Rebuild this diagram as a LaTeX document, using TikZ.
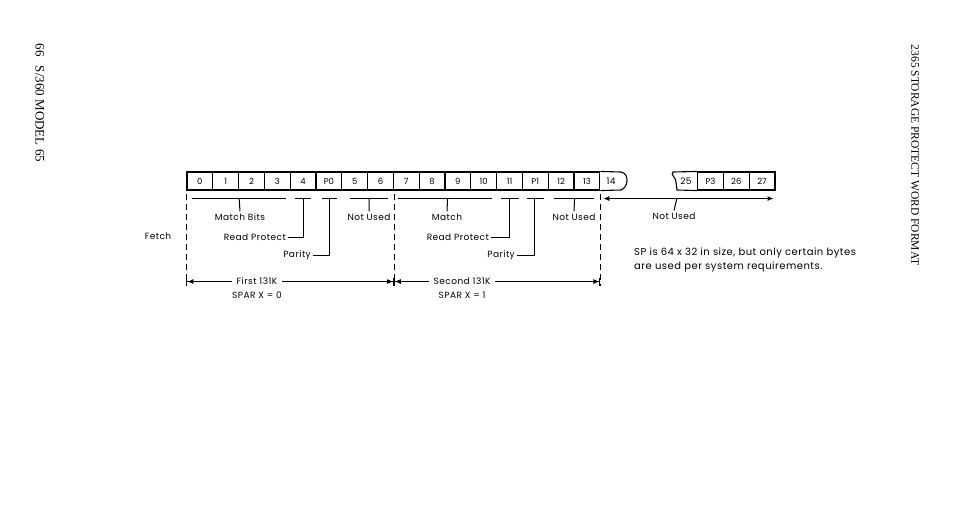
\documentclass[tikz,border=0pt]{standalone}
\usepackage{fontspec}
\newfontfamily\diagfont[LetterSpace=5]{Poppins}
\newfontfamily\cellfont{Poppins}
\newfontfamily\captfont{Liberation Serif}
\usetikzlibrary{arrows.meta,positioning,calc}
\tikzset{
  cell/.style={draw,line width=1.1pt,minimum width=25.8pt,minimum height=18pt,inner sep=0pt,font=\cellfont\fontsize{8.5}{9}\selectfont},
  lbl/.style={inner sep=2pt,font=\diagfont\fontsize{9}{10}\selectfont},
  brk/.style={line width=1pt},
  guide/.style={line width=0.9pt,dash pattern=on 6pt off 4pt},
  span/.style={line width=0.9pt,{Bar[width=8pt]Latex[length=6pt,width=5pt]}-{Latex[length=6pt,width=5pt]Bar[width=8pt]}},
  pagehead/.style={rotate=-90,font=\captfont\fontsize{11.5}{12}\selectfont},
}
\begin{document}
\begin{tikzpicture}[x=1pt,y=-1pt]
\useasboundingbox (0,0) rectangle (960,517);
% storage protect word, bytes 0 to 13
\foreach \lab [count=\i from 0] in {0,1,2,3,4,P0,5,6,7,8,9,10,11,P1,12,13}
  \node[cell] (c\i) at ({199.9+\i*25.8},181) {\lab};
\node[lbl] (c16) at (611,181) {14};
\draw[line width=1.1pt] (c15.north east) -- (621,172) .. controls (626,173) and (627,177) .. (627,181)
  .. controls (627,185) and (624,189) .. (621,190) -- (c15.south east);
% last bytes
\node[cell] (r1) at (710.5,181) {P3};
\node[cell] (r2) at (736.3,181) {26};
\node[cell] (r3) at (762.1,181) {27};
\node[lbl] (r0) at (686,181) {25};
\draw[line width=1.1pt] (r1.north west) -- (673,172) .. controls (670,175) and (676,177) .. (676,182)
  -- (677,190) -- (r1.south west);

% first half
\draw[brk] ($(c0.south west)+(6,8)$) -- ($(c3.south east)+(-5,8)$);
\coordinate (mb0) at ($(c1.south east)+(0,8)$);
\node[lbl] (match0) at (240,217) {Match Bits};
\draw[brk] (mb0) -- (match0.north);
\draw[brk] ($(c4.south west)+(5,8)$) -- ($(c4.south east)+(-6,8)$);
\coordinate (rp0) at ($(c4.south)+(0,8)$);
\node[lbl,anchor=east] (rdprot0) at (288,237) {Read Protect};
\draw[brk] (rp0) |- (rdprot0.east);
\draw[brk] ($(c5.south west)+(7,8)$) -- ($(c5.south east)+(-5,8)$);
\coordinate (pb0) at ($(c5.south)+(1,8)$);
\node[lbl,anchor=east] (parity0) at (313,255) {Parity};
\draw[brk] (pb0) |- (parity0.east);
\draw[brk] ($(c6.south west)+(9,8)$) -- ($(c7.south east)+(-6,8)$);
\coordinate (nu0) at ($(c6.south east)+(1,8)$);
\node[lbl] (notused0) at (369,217) {Not Used};
\draw[brk] (nu0) -- (notused0.north);

% second half
\draw[brk] ($(c8.south west)+(5,8)$) -- ($(c11.south east)+(-5,8)$);
\coordinate (mb1) at ($(c9.south east)+(2,8)$);
\node[lbl] (match1) at (447,217) {Match};
\draw[brk] (mb1) -- (match1.north);
\draw[brk] ($(c12.south west)+(5,8)$) -- ($(c12.south east)+(-4,8)$);
\coordinate (rp1) at ($(c12.south)+(0,8)$);
\node[lbl,anchor=east] (rdprot1) at (491,237) {Read Protect};
\draw[brk] (rp1) |- (rdprot1.east);
\draw[brk] ($(c13.south west)+(5,8)$) -- ($(c13.south east)+(-5,8)$);
\coordinate (pb1) at ($(c13.south)+(-1,8)$);
\node[lbl,anchor=east] (parity1) at (517,255) {Parity};
\draw[brk] (pb1) |- (parity1.east);
\draw[brk] ($(c14.south west)+(6,8)$) -- ($(c15.south east)+(-6,8)$);
\coordinate (nu1) at ($(c14.south east)+(0,8)$);
\node[lbl] (notused1) at (574,217) {Not Used};
\draw[brk] (nu1) -- (notused1.north);

% rest of the word
\coordinate (n0) at ($(c15.south east)+(3,8)$);
\coordinate (n1) at ($(r3.south east)+(-2,8)$);
\draw[brk,{Latex[length=6pt,width=5pt]}-{Latex[length=6pt,width=5pt]}] (n0) -- (n1);
\coordinate (nu2) at (677,198);
\node[lbl] (notused2) at (674,216) {Not Used};
\draw[brk] (nu2) -- (notused2.north);
\node[lbl,anchor=north west,align=left,font=\diagfont\fontsize{10}{14}\selectfont] (note) at (632,246)
  {SP is 64 x 32 in size, but only certain bytes\\are used per system requirements.};

% guides and ranges
\foreach \c/\a in {c0.south west/a0,c7.south east/a1,c15.south east/a2}{
  \draw[guide] ($(\c)+(0,3)$) -- +(0,92);
  \coordinate (\a) at ($(\c)+(0,91)$);
}
\node[lbl] (fetch) at (158,236) {Fetch};
\draw[span] (a0) -- node[lbl,pos=0.34,fill=white,inner xsep=5pt] (first) {First 131K} (a1);
\node[lbl,below=2pt of first] (spar0) {SPAR X = 0};
\draw[span] (a1) -- node[lbl,pos=0.33,fill=white,inner xsep=5pt] (second) {Second 131K} (a2);
\node[lbl,below=2pt of second] (spar1) {SPAR X = 1};

% page headings
\node[pagehead,font=\captfont\fontsize{13}{14}\selectfont] (pagenum) at (40,103) {66\hspace{9pt}S/360 MODEL 65};
\node[pagehead] (title) at (915,155) {2365 STORAGE PROTECT WORD FORMAT};
\end{tikzpicture}
\end{document}
